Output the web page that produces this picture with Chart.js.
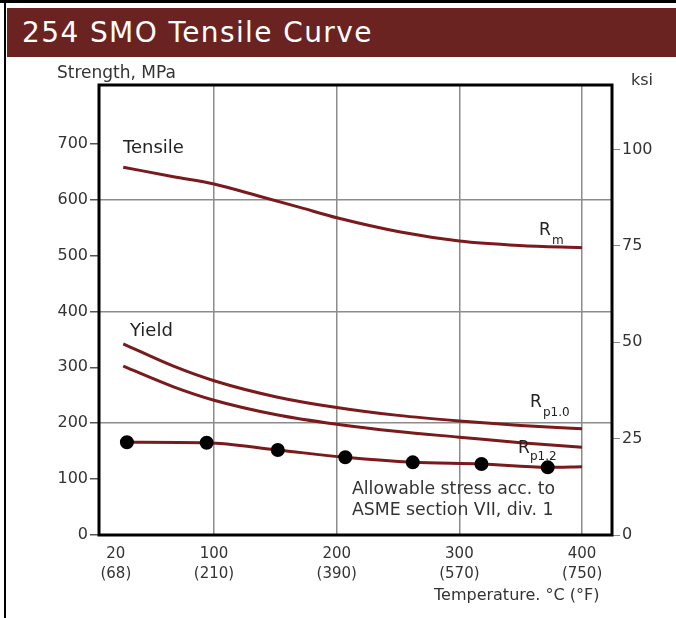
<!DOCTYPE html>
<html>
<head>
<meta charset="utf-8">
<script src="https://cdn.jsdelivr.net/npm/chart.js@4.4.0/dist/chart.umd.min.js"></script>
<style>
  html, body { margin: 0; padding: 0; background: #fff; }
  #page { position: relative; width: 676px; height: 618px; overflow: hidden; }
  #frameTop { position: absolute; left: 0; top: 0; width: 676px; height: 3px; background: #000; }
  #frameLeft { position: absolute; left: 4px; top: 0; width: 2px; height: 618px; background: #000; }
  #titleBar {
    position: absolute; left: 7px; top: 8px; width: 669px; height: 49px;
    background: #6a2320; color: #fff;
    font: 28px "DejaVu Sans", sans-serif; letter-spacing: 1.4px; line-height: 49px;
    padding-left: 15px; box-sizing: border-box;
  }
  .axisLabel { position: absolute; font: 16px "DejaVu Sans", sans-serif; color: #333; white-space: nowrap; }
  canvas { position: absolute; left: 0; top: 0; }
</style>
</head>
<body>
<div id="page">
  <canvas id="chart" width="676" height="618"></canvas>
  <div id="frameTop"></div>
  <div id="frameLeft"></div>
  <div id="titleBar">254 SMO Tensile Curve</div>
  <div class="axisLabel" style="left:57px; top:62px; font-size:17px;">Strength, MPa</div>
  <div class="axisLabel" style="left:631px; top:70px;">ksi</div>
  <div class="axisLabel" style="left:434px; top:585px;">Temperature. °C (°F)</div>
</div>
<script>
// temperature, deg C
const tempTicks = [20, 100, 200, 300, 400];
const tempTickLabels = [['20', '(68)'], ['100', '(210)'], ['200', '(390)'], ['300', '(570)'], ['400', '(750)']];
const mpaTicks = [0, 100, 200, 300, 400, 500, 600, 700];
const ksiTicks = [0, 25, 50, 75, 100];

// tensile strength Rm, MPa
const rmTemps = [26, 67, 100, 137, 170, 201, 252, 300, 349, 400];
const rmValues = [658, 641, 628, 606, 586, 567, 542, 526, 518, 514];

// yield Rp1.0, MPa
const rp10Temps = [26, 67, 100, 151, 200, 250, 300, 350, 400];
const rp10Values = [342, 302, 276, 247, 228, 214, 204, 196, 190];

// yield Rp0.2, MPa
const rp02Temps = [26, 67, 100, 151, 200, 250, 300, 350, 400];
const rp02Values = [302, 265, 241, 215, 198, 185, 175, 165, 157];

// allowable stress ASME, MPa (dots; last point is the line end)
const allowTemps = [29, 94, 152, 207, 262, 318, 372, 400];
const allowValues = [166, 165, 152, 139, 130, 127, 121, 122];

const MPA_PER_KSI = 6.895;
const X_MIN = 6.25, X_MAX = 424.4, Y_MAX = 805;
const curveColor = '#7b1a1c';
const FONT = 'DejaVu Sans';

const toXY = (xs, ys) => xs.map((x, i) => ({ x: x, y: ys[i] }));

const framePlugin = {
  id: 'frame',
  afterDatasetsDraw(chart) {
    const { ctx, chartArea: a } = chart;
    ctx.save();
    ctx.strokeStyle = '#000';
    ctx.lineWidth = 3;
    ctx.strokeRect(a.left, a.top, a.right - a.left, a.bottom - a.top);

    ctx.fillStyle = '#222';
    ctx.textBaseline = 'middle';
    ctx.font = '18px "' + FONT + '", sans-serif';
    ctx.fillText('Tensile', 123, 148);
    ctx.fillText('Yield', 130, 331);

    ctx.font = '17px "' + FONT + '", sans-serif';
    ctx.fillText('R', 539, 231);
    ctx.fillText('R', 530, 403);
    ctx.fillText('R', 518, 449);
    ctx.font = '12px "' + FONT + '", sans-serif';
    ctx.fillText('m', 552, 241);
    ctx.fillText('p1.0', 543, 413);
    ctx.fillText('p1.2', 530, 457);

    ctx.fillStyle = '#333';
    ctx.font = '17.3px "' + FONT + '", sans-serif';
    ctx.fillText('Allowable stress acc. to', 352, 490);
    ctx.fillText('ASME section VII, div. 1', 352, 511);
    ctx.restore();
  }
};

const curve = (label, data) => ({
  label: label,
  data: data,
  borderColor: curveColor,
  borderWidth: 3,
  pointRadius: 0,
  cubicInterpolationMode: 'monotone',
  fill: false
});

new Chart(document.getElementById('chart'), {
  type: 'line',
  data: {
    datasets: [
      curve('Rm', toXY(rmTemps, rmValues)),
      curve('Rp1.0', toXY(rp10Temps, rp10Values)),
      curve('Rp0.2', toXY(rp02Temps, rp02Values)),
      {
        ...curve('Allowable', toXY(allowTemps, allowValues)),
        pointRadius: ctx => (ctx.dataIndex === allowTemps.length - 1 ? 0 : 5.5),
        pointBackgroundColor: '#000',
        pointBorderColor: '#000'
      }
    ]
  },
  options: {
    responsive: false,
    animation: false,
    layout: { padding: { top: 85 } },
    plugins: { legend: { display: false }, tooltip: { enabled: false } },
    scales: {
      x: {
        type: 'linear',
        min: X_MIN,
        max: X_MAX,
        afterBuildTicks: s => { s.ticks = tempTicks.map(v => ({ value: v })); },
        afterFit: s => { s.height = 83; },
        border: { display: false },
        grid: {
          color: c => (c.tick && c.tick.value === 20 ? 'transparent' : '#8c8c8c'),
          lineWidth: 1.5,
          drawTicks: false
        },
        ticks: {
          padding: 9,
          color: '#333',
          font: { family: FONT, size: 15, lineHeight: 1.35 },
          callback: v => tempTickLabels[tempTicks.indexOf(v)]
        }
      },
      y: {
        position: 'left',
        min: 0,
        max: Y_MAX,
        afterBuildTicks: s => { s.ticks = mpaTicks.map(v => ({ value: v })); },
        afterFit: s => { s.width = 99; },
        border: { display: false },
        grid: {
          color: c => (c.tick && c.tick.value > 0 && c.tick.value % 200 === 0 ? '#8c8c8c' : 'transparent'),
          tickColor: '#555',
          lineWidth: 1.5,
          tickLength: 9
        },
        ticks: {
          padding: 2,
          color: '#333',
          font: { family: FONT, size: 16 }
        }
      },
      y2: {
        position: 'right',
        min: 0,
        max: Y_MAX / MPA_PER_KSI,
        afterBuildTicks: s => { s.ticks = ksiTicks.map(v => ({ value: v })); },
        afterFit: s => { s.width = 64; },
        border: { display: false },
        grid: { drawOnChartArea: false, color: '#888', tickLength: 8 },
        ticks: {
          padding: 2,
          color: '#333',
          font: { family: FONT, size: 16 }
        }
      }
    }
  },
  plugins: [framePlugin]
});
</script>
</body>
</html>
